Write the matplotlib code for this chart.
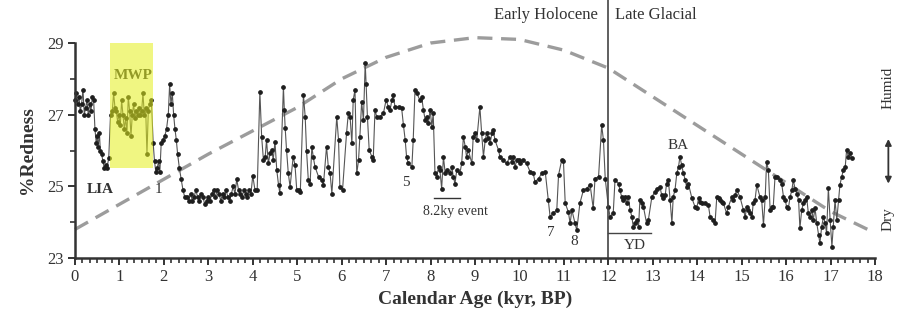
import matplotlib
matplotlib.use('Agg')
import matplotlib.pyplot as plt
from matplotlib.ticker import MultipleLocator
from matplotlib.patches import Rectangle

# redness record (kyr BP, %)
age = [0.00, 0.03, 0.06, 0.09, 0.12, 0.15, 0.18, 0.21, 0.24, 0.27, 0.30, 0.33, 0.36, 0.39, 0.42,
       0.45, 0.48, 0.50, 0.52, 0.55, 0.57, 0.60, 0.63, 0.66, 0.69, 0.72, 0.76,
       0.80, 0.84, 0.87, 0.90, 0.93, 0.96, 0.99, 1.02, 1.05, 1.08, 1.11, 1.14, 1.17, 1.20, 1.23,
       1.26, 1.29, 1.32, 1.35, 1.38, 1.41, 1.44, 1.47, 1.50, 1.53, 1.56, 1.59, 1.62, 1.65, 1.68, 1.72,
       1.76, 1.79, 1.82, 1.85, 1.88, 1.91, 1.94, 1.98, 2.02, 2.06, 2.10, 2.13, 2.16, 2.19, 2.22,
       2.25, 2.28, 2.31, 2.35, 2.39, 2.43, 2.47,
       2.52, 2.56, 2.60, 2.64, 2.68, 2.72, 2.76, 2.80, 2.84, 2.88, 2.92, 2.96, 3.00, 3.04, 3.08,
       3.12, 3.16, 3.20, 3.24, 3.28, 3.32, 3.36, 3.40, 3.44, 3.48, 3.52, 3.56, 3.60, 3.64, 3.68,
       3.72, 3.76, 3.80, 3.84, 3.88, 3.92, 3.96, 4.00, 4.05, 4.10,
       4.16, 4.20, 4.24, 4.28, 4.31, 4.35, 4.39, 4.43, 4.46, 4.50, 4.54, 4.58, 4.61, 4.69, 4.71,
       4.73, 4.76, 4.80, 4.84, 4.91, 4.95, 4.99, 5.03, 5.07, 5.14, 5.18, 5.21, 5.25, 5.29, 5.33,
       5.36, 5.40, 5.48, 5.55, 5.59, 5.66, 5.70, 5.74, 5.78, 5.89, 5.93, 5.96, 6.02, 6.11, 6.15,
       6.19, 6.23, 6.26, 6.30, 6.34, 6.38, 6.41, 6.45, 6.49, 6.53, 6.55, 6.58, 6.62, 6.68, 6.71,
       6.75, 6.79, 6.86, 6.94, 7.00, 7.05, 7.09, 7.13, 7.16, 7.20, 7.28, 7.35, 7.39, 7.43, 7.46,
       7.50, 7.58, 7.61, 7.65, 7.69, 7.76, 7.80, 7.84, 7.88, 7.91, 7.95, 7.99, 8.03, 8.06, 8.10,
       8.14, 8.18, 8.21, 8.25, 8.29, 8.33, 8.36, 8.44, 8.48, 8.51, 8.55, 8.59, 8.66, 8.70, 8.74,
       8.78, 8.81, 8.85, 8.93, 8.96, 9.00, 9.04, 9.11, 9.15, 9.19, 9.23, 9.26, 9.30, 9.34, 9.38,
       9.41, 9.45, 9.53, 9.56, 9.64, 9.71, 9.79, 9.83, 9.86, 9.90, 9.94, 9.98, 10.01, 10.09, 10.16,
       10.24, 10.31, 10.35, 10.43, 10.50, 10.58, 10.65, 10.69, 10.76, 10.84, 10.88, 10.95, 10.99,
       11.03, 11.10, 11.14, 11.18, 11.25, 11.29, 11.36, 11.44, 11.51, 11.59, 11.66, 11.70, 11.78,
       11.85, 11.89, 11.93,
       12.00, 12.04, 12.11, 12.15, 12.23, 12.26, 12.30, 12.34, 12.38, 12.41, 12.45, 12.49, 12.53,
       12.56, 12.60, 12.64, 12.68, 12.71, 12.75, 12.79, 12.86, 12.90, 12.98, 13.05, 13.09, 13.16,
       13.20, 13.24, 13.28, 13.31, 13.35, 13.39, 13.43, 13.46, 13.50, 13.54, 13.58, 13.61, 13.65,
       13.69, 13.73, 13.76, 13.80, 13.88, 13.95, 13.99, 14.03, 14.06, 14.10, 14.18, 14.25, 14.29,
       14.36, 14.40, 14.44, 14.48, 14.51, 14.55, 14.59, 14.66, 14.70, 14.78, 14.81, 14.85, 14.89,
       14.96, 15.04, 15.08, 15.11, 15.15, 15.19, 15.23, 15.26, 15.30, 15.34, 15.41, 15.45, 15.49,
       15.53, 15.56, 15.60, 15.64, 15.68, 15.71, 15.75, 15.79, 15.86, 15.90, 15.94, 15.98, 16.01,
       16.05, 16.09, 16.13, 16.16, 16.20, 16.24, 16.28, 16.31, 16.35, 16.39, 16.43, 16.46, 16.50,
       16.54, 16.58, 16.61, 16.65, 16.69, 16.73, 16.76, 16.80, 16.84, 16.88, 16.91, 16.95, 16.99,
       17.03, 17.06, 17.10, 17.14, 17.18, 17.21, 17.25, 17.29, 17.33, 17.36, 17.40, 17.44, 17.48]

redness = [27.4, 27.6, 27.3, 27.5, 27.1, 27.3, 27.7, 27.0, 27.2, 27.4, 27.0, 27.3, 27.1, 27.5, 27.4,
           26.6, 26.2, 26.4, 26.1, 26.5, 26.0, 25.9, 25.7, 25.5, 25.6, 25.5, 25.8,
           27.0, 27.1, 27.6, 27.2, 27.1, 26.8, 27.0, 26.7, 27.4, 27.0, 26.6, 26.9, 26.5, 27.5, 27.1,
           26.4, 27.0, 27.3, 26.9, 27.1, 27.0, 27.2, 27.0, 27.1, 27.6, 27.0, 27.2, 25.9, 27.1, 27.3, 27.4,
           26.2, 25.7, 25.4, 25.5, 25.7, 25.4, 26.2, 26.3, 26.4, 26.6, 27.0, 27.85, 27.3, 27.6, 27.0,
           26.6, 26.3, 25.9, 25.5, 25.2, 24.9, 24.7,
           24.7, 24.6, 24.8, 24.6, 24.7, 24.9, 24.7, 24.6, 24.8, 24.7, 24.5, 24.6, 24.7, 24.6, 24.8,
           24.9, 24.7, 24.9, 24.8, 24.6, 24.8, 24.7, 24.9, 24.7, 24.6, 24.8, 25.0, 24.8, 25.2, 24.9,
           24.8, 24.7, 24.9, 24.8, 24.7, 24.9, 24.8, 25.3, 24.9, 24.9,
           27.64, 26.39, 25.74, 25.83, 26.29, 25.64, 25.92, 26.02, 25.74, 26.25, 25.46, 25.04, 24.81, 27.78, 27.13,
           26.62, 26.02, 25.36, 24.99, 25.83, 25.6, 24.9, 24.9, 24.85, 27.55, 26.94, 26.0, 25.18, 25.08, 26.11,
           25.83, 25.55, 25.27, 25.18, 25.04, 26.11, 25.55, 25.36, 24.8, 26.94, 26.29, 24.99, 24.9, 26.48, 27.04,
           26.94, 26.2, 27.41, 27.69, 25.36, 25.73, 26.39, 27.36, 26.85, 28.43, 27.87, 26.94, 26.01, 25.83, 25.73,
           27.13, 26.94, 26.94, 27.04, 27.41, 27.22, 27.13, 27.41, 27.55, 27.22, 27.22, 27.18, 26.71, 26.29, 25.83,
           25.64, 25.55, 26.29, 27.69, 27.6, 27.41, 27.5, 27.13, 26.85, 26.94, 26.76, 27.13, 26.67, 27.04, 25.36,
           25.27, 25.55, 25.46, 24.94, 25.83, 25.36, 25.46, 25.36, 25.55, 25.27, 25.08, 25.46, 25.36, 25.64, 26.39,
           26.11, 25.83, 26.01, 25.64, 26.39, 26.48, 26.29, 27.22, 26.48, 25.83, 26.29, 26.48, 26.34, 26.2, 26.48,
           26.57, 26.29, 26.01, 25.83, 25.73, 25.64, 25.83, 25.69, 25.83, 25.55, 25.73, 25.73, 25.64, 25.73, 25.64,
           25.41, 25.36, 25.13, 25.22, 25.36, 25.41, 24.62, 24.15, 24.25, 24.34, 25.32, 25.73, 25.7,
           24.53, 24.29, 23.97, 24.34, 23.97, 23.78, 24.53, 24.9, 24.94, 25.04, 24.39, 25.22, 25.27,
           26.71, 26.29, 25.22,
           24.43, 24.15, 24.25, 25.18, 25.08, 24.9, 24.71, 24.62, 24.71, 24.53, 24.71, 24.34, 24.15,
           23.87, 23.97, 24.06, 23.87, 24.62, 24.53, 24.43, 23.97, 24.06, 24.71, 24.85, 24.94, 24.99,
           24.76, 24.67, 24.76, 25.08, 25.18, 24.62, 23.97, 24.71, 24.9, 25.36, 25.55, 25.83, 25.6,
           25.36, 25.18, 24.99, 25.08, 24.67, 24.43, 24.39, 24.67, 24.57, 24.53, 24.53, 24.48, 24.15,
           24.06, 23.97, 24.71, 24.67, 24.62, 24.57, 24.53, 24.25, 24.43, 24.71, 24.62, 24.76, 24.9,
           24.71, 24.34, 24.15, 24.43, 24.34, 24.25, 24.15, 24.53, 24.62, 25.04, 24.71, 24.62, 23.92,
           24.71, 25.69, 25.46, 24.34, 24.43, 24.43, 25.27, 25.27, 25.18, 25.08, 24.71, 24.62, 24.43,
           24.39, 24.71, 24.9, 25.18, 24.94, 24.8, 24.62, 23.83, 24.34, 24.53, 24.62, 24.71, 24.25,
           24.15, 24.34, 24.06, 24.39, 23.97, 23.64, 23.41, 23.88, 24.15, 23.97, 23.69, 24.95, 24.06,
           23.32, 23.88, 24.62, 24.06, 24.62, 25.04, 25.27, 25.46, 25.55, 26.01, 25.83, 25.92, 25.78]

# insolation-like dashed curve
insol_age = [0, 1, 2, 3, 4, 5, 6, 7, 8, 9, 10, 11, 12, 13, 14, 15, 16, 17, 18]
insol = [23.8, 24.5, 25.2, 25.9, 26.55, 27.2, 28.0, 28.6, 29.0, 29.15, 29.1, 28.8, 28.3, 27.5,
         26.7, 25.9, 25.1, 24.3, 23.7]

plt.rcParams['font.family'] = ['Liberation Serif', 'DejaVu Serif']

fig = plt.figure(figsize=(9.02, 3.21), dpi=100)
ax = fig.add_axes([0.0831, 0.196, 0.887, 0.670])

ax.plot(insol_age, insol, color='#9c9c9c', lw=2.4, dashes=(4.5, 2.6), clip_on=False, zorder=1)
ax.plot(age, redness, '-o', color='#555555', mfc='#1e1e1e', mec='#1e1e1e', ms=2.4, lw=0.8,
        clip_on=False, zorder=2)

# MWP box over the data
ax.add_patch(Rectangle((0.79, 25.5), 0.97, 3.5, facecolor='#e4f01c', alpha=0.55,
                       edgecolor='none', zorder=3))

# Holocene / Late Glacial boundary
ax.plot([12, 12], [23, 30.2], color='#444444', lw=1.2, clip_on=False, zorder=2)
ax.text(11.77, 29.78, 'Early Holocene', ha='right', va='center', fontsize=12, color='#333333')
ax.text(12.15, 29.78, 'Late Glacial', ha='left', va='center', fontsize=12, color='#333333')

# event labels
ax.text(0.56, 24.9, 'LIA', ha='center', va='center', fontsize=11, fontweight='bold', color='#333333')
ax.text(1.3, 28.1, 'MWP', ha='center', va='center', fontsize=11, fontweight='bold', color='#333333', zorder=2)
ax.text(1.87, 24.9, '1', ha='center', va='center', fontsize=11, color='#333333')
ax.text(7.45, 25.1, '5', ha='center', va='center', fontsize=11, color='#333333')
ax.plot([8.08, 8.67], [24.67, 24.67], color='#333333', lw=1)
ax.text(8.55, 24.3, '8.2ky event', ha='center', va='center', fontsize=10, color='#333333')
ax.text(10.7, 23.7, '7', ha='center', va='center', fontsize=11, color='#333333')
ax.text(11.23, 23.45, '8', ha='center', va='center', fontsize=11, color='#333333')
ax.text(13.57, 26.15, 'BA', ha='center', va='center', fontsize=11, color='#333333')
ax.plot([12, 12.95], [23.7, 23.7], color='#444444', lw=1)
ax.text(12.6, 23.35, 'YD', ha='center', va='center', fontsize=11, color='#333333')

# humid / dry indicator
ax.text(18.3, 27.74, 'Humid', ha='center', va='center', rotation=90, fontsize=11, color='#333333')
ax.text(18.3, 24.1, 'Dry', ha='center', va='center', rotation=90, fontsize=11, color='#333333')
ax.annotate('', xy=(18.3, 26.4), xytext=(18.3, 25.0),
            arrowprops=dict(arrowstyle='<|-|>', color='#333333', lw=1.3, mutation_scale=9),
            annotation_clip=False)

ax.set_xlim(0, 18)
ax.set_ylim(23, 29)
ax.xaxis.set_major_locator(MultipleLocator(1))
ax.xaxis.set_minor_locator(MultipleLocator(1 / 6))
ax.set_yticks([23, 25, 27, 29])
ax.yaxis.set_minor_locator(MultipleLocator(1))
ax.tick_params(which='major', direction='out', length=5, width=1.4, labelsize=12,
               colors='#333333', pad=3)
ax.tick_params(which='minor', direction='out', length=3.5, width=1.2, colors='#333333')
for side in ['top', 'right']:
    ax.spines[side].set_visible(False)
for side in ['left', 'bottom']:
    ax.spines[side].set_linewidth(1.8)
    ax.spines[side].set_color('#333333')

ax.set_xlabel('Calendar Age (kyr, BP)', fontsize=14, fontweight='bold', color='#333333', labelpad=4)
ax.set_ylabel('%Redness', fontsize=14, fontweight='bold', color='#333333', labelpad=8)

plt.savefig('out.png', dpi=100)
